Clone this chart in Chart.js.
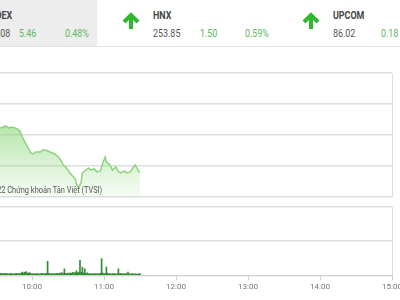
<!DOCTYPE html>
<html>
<head>
<meta charset="utf-8">
<script src="https://cdn.jsdelivr.net/npm/chart.js@4"></script>
<style>
  html, body { margin: 0; padding: 0; }
  body { width: 400px; height: 300px; overflow: hidden; position: relative; background: #fff; font-family: Roboto, sans-serif; }
  #header { position: absolute; left: 0; top: 0; width: 400px; height: 46px; border-bottom: 1px solid #e3e3e3; }
  #vn-box { position: absolute; left: 0; top: 0; width: 97px; height: 46px; background: #ededed; }
  .t { position: absolute; white-space: nowrap; line-height: 1; font-size: 11px; transform: scaleX(0.81); transform-origin: left center; }
  .t.r { transform-origin: right center; }
  .name { font-weight: bold; color: #454545; top: 10px; }
  .val { color: #555; top: 28px; }
  .up { color: #5cb85c; top: 28px; }
  .arrow { position: absolute; top: 12px; width: 18px; height: 17px; }
  #price-box { position: absolute; left: 0; top: 60px; width: 400px; height: 145px; }
  #volume-box { position: absolute; left: 0; top: 195px; width: 400px; height: 105px; }
  #watermark { position: absolute; right: 298px; top: 185px; white-space: nowrap; line-height: 1; font-size: 9.5px; color: #555; transform: scaleX(0.78); transform-origin: right center; }
</style>
</head>
<body>
<div id="header">
  <div id="vn-box"></div>
  <span class="t r name" style="right:388px">VNINDEX</span>
  <span class="t r val" style="right:390px">1,143.08</span>
  <span class="t up" style="left:19px">5.46</span>
  <span class="t up" style="left:65px">0.48%</span>

  <svg class="arrow" style="left:122px" viewBox="0 0 18 17"><path d="M9 17V3M2 10L9 3L16 10" stroke="#2eb82e" stroke-width="4" fill="none"/></svg>
  <span class="t name" style="left:153px">HNX</span>
  <span class="t val" style="left:153px">253.85</span>
  <span class="t up" style="left:200px">1.50</span>
  <span class="t up" style="left:245px">0.59%</span>

  <svg class="arrow" style="left:302px" viewBox="0 0 18 17"><path d="M9 17V3M2 10L9 3L16 10" stroke="#2eb82e" stroke-width="4" fill="none"/></svg>
  <span class="t name" style="left:333px">UPCOM</span>
  <span class="t val" style="left:333px">86.02</span>
  <span class="t up" style="left:381px">0.18</span>
</div>

<div id="price-box"><canvas id="price-chart"></canvas></div>
<div id="volume-box"><canvas id="volume-chart"></canvas></div>
<div id="watermark">© 2022 Chứng khoán Tân Việt (TVSI)</div>

<script>
// VNINDEX intraday, morning session
const priceTimes = ['9:15', '9:25', '9:33', '9:36', '9:38', '9:41', '9:43', '9:46', '9:48', '9:50', '9:52', '9:54', '9:57', '9:59',
  '10:01', '10:03', '10:07', '10:09', '10:11', '10:13', '10:17', '10:19', '10:22', '10:24', '10:26', '10:28', '10:31', '10:33',
  '10:36', '10:37', '10:39', '10:41', '10:42', '10:45', '10:47', '10:49', '10:52', '10:54', '10:57', '10:59',
  '11:01', '11:02', '11:05', '11:07', '11:10', '11:12', '11:14', '11:17', '11:19', '11:22', '11:24', '11:26', '11:27', '11:29', '11:30'];
const priceValues = [1146.70, 1146.60, 1146.56, 1146.65, 1146.73, 1146.56, 1146.65, 1146.56, 1146.48, 1146.32, 1145.84, 1145.44, 1144.95, 1144.55,
  1144.47, 1144.63, 1144.63, 1144.79, 1144.79, 1144.71, 1144.55, 1144.47, 1144.23, 1143.98, 1143.58, 1143.42, 1143.02, 1142.77,
  1142.45, 1142.05, 1141.73, 1142.21, 1142.94, 1143.18, 1143.34, 1143.18, 1143.26, 1143.02, 1143.10, 1143.74,
  1144.23, 1143.82, 1143.58, 1143.18, 1143.42, 1143.02, 1142.94, 1143.10, 1142.94, 1143.02, 1143.34, 1143.58, 1143.42, 1143.02, 1143.08];

// volume per minute, starting at 9:30
const volumeStart = '9:30';
const volumeValues = [
  20, 22, 16, 14, 12, 10, 11, 9, 12, 10,
  8, 9, 11, 10, 9, 8, 10, 12, 9, 11,
  10, 13, 20, 14, 18, 22, 15, 12, 16, 11,
  9, 10, 8, 11, 9, 10, 8, 9, 12, 10,
  9, 11, 10, 82, 12, 9, 10, 8, 11, 9,
  10, 12, 9, 14, 11, 16, 10, 38, 12, 11,
  13, 10, 15, 12, 18, 14, 16, 27, 15, 20,
  88, 18, 49, 14, 38, 12, 15, 10, 9, 11,
  8, 10, 9, 11, 8, 10, 9, 12, 99, 14,
  10, 11, 49, 12, 9, 10, 8, 11, 9, 10,
  8, 9, 38, 10, 12, 9, 8, 10, 9, 11,
  20, 9, 8, 10, 9, 8, 9, 7, 8, 9, 10
];

// hour ticks on the time axis
const hourTicks = [10, 11, 12, 13, 14, 15];

// axis ranges (hours); the left part of the day is cut off in the picture
const timeMin = 9 + 40 / 72;
const timeMax = 15;
const priceMin = 1141, priceMax = 1151, priceStep = 2.5;
const volumeMax = 400;

const gridColor = '#dedede';

function toHours(s) {
  const [h, m] = s.split(':').map(Number);
  return h + m / 60;
}

function setHourTicks(axis) {
  axis.ticks = hourTicks.map(v => ({ value: v }));
}

function noSidePadding(scale) {
  scale.paddingLeft = 0;
  scale.paddingRight = 0;
}

function lastLineOnly(ctx) {
  return ctx.tick && ctx.tick.value === timeMax ? gridColor : 'rgba(0,0,0,0)';
}

const pricePoints = priceTimes.map((t, i) => ({ x: toHours(t), y: priceValues[i] }));
const volumePoints = volumeValues.map((v, i) => ({ x: toHours(volumeStart) + i / 60, y: v }));

Chart.defaults.font.family = "'Liberation Sans Narrow', Roboto, sans-serif";

new Chart(document.getElementById('price-chart'), {
  type: 'line',
  data: {
    datasets: [{
      data: pricePoints,
      borderColor: '#8dd27f',
      borderWidth: 1.5,
      pointRadius: 0,
      tension: 0,
      fill: 'start',
      backgroundColor: function(context) {
        const area = context.chart.chartArea;
        if (!area) return 'rgba(140,210,120,0.3)';
        const g = context.chart.ctx.createLinearGradient(0, area.top + 45, 0, area.bottom);
        g.addColorStop(0, 'rgba(135,212,115,0.65)');
        g.addColorStop(1, 'rgba(135,212,115,0.06)');
        return g;
      }
    }]
  },
  options: {
    responsive: true,
    maintainAspectRatio: false,
    animation: false,
    layout: { padding: { top: 13, bottom: 8, left: 0, right: 8 } },
    plugins: { legend: { display: false }, tooltip: { enabled: false } },
    scales: {
      x: {
        type: 'linear',
        min: timeMin,
        max: timeMax,
        ticks: { display: false },
        afterBuildTicks: setHourTicks,
        grid: { drawTicks: false, offset: false, color: lastLineOnly },
        border: { display: false }
      },
      y: {
        min: priceMin,
        max: priceMax,
        ticks: { display: false, stepSize: priceStep },
        grid: { drawTicks: false, color: gridColor, lineWidth: 1.5 },
        border: { display: false }
      }
    }
  }
});

new Chart(document.getElementById('volume-chart'), {
  type: 'bar',
  data: {
    datasets: [{
      data: volumePoints,
      backgroundColor: '#2f8c2f',
      barThickness: 1
    }]
  },
  options: {
    responsive: true,
    maintainAspectRatio: false,
    animation: false,
    layout: { padding: { top: 12, bottom: 6, left: 0, right: 8 } },
    plugins: { legend: { display: false }, tooltip: { enabled: false } },
    scales: {
      x: {
        type: 'linear',
        offset: false,
        min: timeMin,
        max: timeMax,
        ticks: {
          padding: 2,
          maxRotation: 0,
          autoSkip: false,
          color: '#777',
          font: { size: 8 },
          callback: value => value + ':00'
        },
        afterBuildTicks: setHourTicks,
        afterFit: noSidePadding,
        grid: {
          offset: false,
          tickLength: 5,
          tickColor: '#cfcfcf',
          color: lastLineOnly
        },
        border: { color: '#d2d2d2' }
      },
      y: {
        min: 0,
        max: volumeMax,
        ticks: { display: false, stepSize: volumeMax / 2 },
        grid: { drawTicks: false, color: gridColor, lineWidth: 1.5 },
        border: { display: false }
      }
    }
  }
});
</script>
</body>
</html>
